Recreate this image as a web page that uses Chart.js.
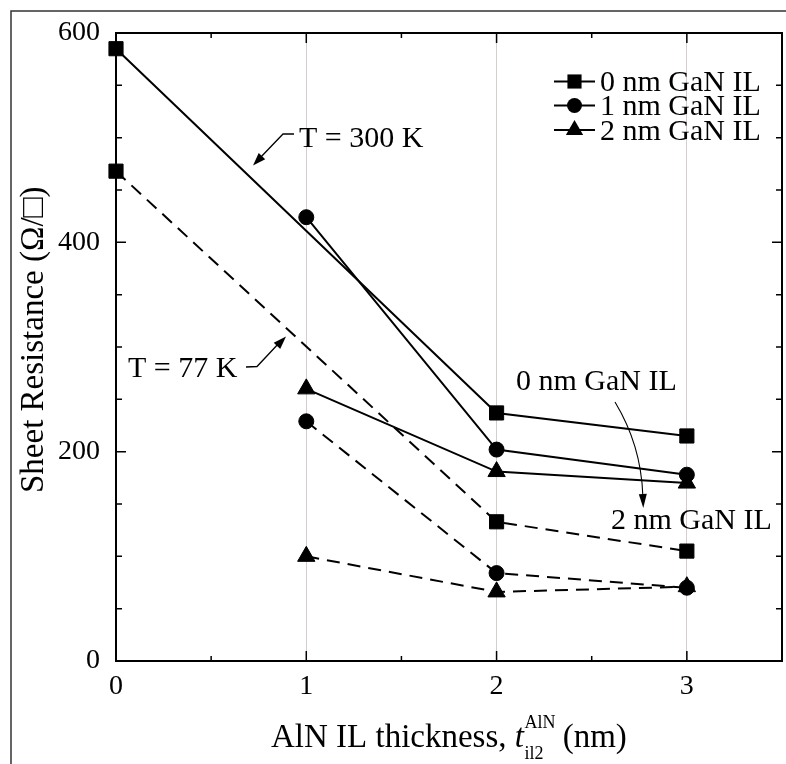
<!DOCTYPE html>
<html><head><meta charset="utf-8">
<script src="https://cdn.jsdelivr.net/npm/chart.js@4.4.1/dist/chart.umd.min.js"></script>
<style>html,body{margin:0;padding:0;background:#fff;}#wrap{width:786px;height:764px;}</style>
</head><body><div id="wrap"><canvas id="c" width="786" height="764"></canvas></div>
<script>
// ---- data ----
const seriesLabels = ['0 nm GaN IL', '1 nm GaN IL', '2 nm GaN IL'];
// T = 300 K (solid)
const x300_0 = [0, 2, 3];  const y300_0 = [585, 237, 215];
const x300_1 = [1, 2, 3];  const y300_1 = [424, 202, 178];
const x300_2 = [1, 2, 3];  const y300_2 = [260, 181, 170];
// T = 77 K (dashed)
const x77_0 = [0, 2, 3];   const y77_0 = [468, 133, 105];
const x77_1 = [1, 2, 3];   const y77_1 = [229, 84, 70];
const x77_2 = [1, 2, 3];   const y77_2 = [100, 66, 71];
// tick labels
const xTickValues = [0, 1, 2, 3];       const xTickLabels = ['0', '1', '2', '3'];
const yTickValues = [0, 200, 400, 600]; const yTickLabels = ['0', '200', '400', '600'];
const xTitle = ['AlN IL thickness, ', 't', 'il2', 'AlN', ' (nm)'];
const yTitle = 'Sheet Resistance (\u03A9/\u25A1)';
const annotations = ['T = 300 K', 'T = 77 K', '0 nm GaN IL', '2 nm GaN IL'];

const serif = '"Liberation Serif", "Times New Roman", serif';
const mk = (xs, ys) => xs.map((x, i) => ({ x: x, y: ys[i] }));
const markerStyles = ['rect', 'circle', 'triangle'];
const markerRadius = { rect: 10, circle: 7.5, triangle: 10 };

function ds(label, data, idx, dashed) {
  const st = markerStyles[idx];
  return {
    label: label, data: data,
    borderColor: '#000', backgroundColor: '#000', borderWidth: 2,
    borderDash: dashed ? [13, 8] : [],
    pointStyle: st, pointRadius: markerRadius[st], pointHoverRadius: markerRadius[st],
    pointBackgroundColor: '#000', pointBorderColor: '#000', pointBorderWidth: 1,
    tension: 0, fill: false, clip: false
  };
}

function drawMarker(ctx, style, x, y) {
  const r = markerRadius[style];
  ctx.beginPath();
  if (style === 'rect') {
    const s = Math.SQRT1_2 * r;
    ctx.rect(x - s, y - s, 2 * s, 2 * s);
  } else if (style === 'circle') {
    ctx.arc(x, y, r, 0, Math.PI * 2);
  } else {
    ctx.moveTo(x, y - r);
    ctx.lineTo(x + r * Math.cos(Math.PI / 6), y + r / 2);
    ctx.lineTo(x - r * Math.cos(Math.PI / 6), y + r / 2);
    ctx.closePath();
  }
  ctx.fillStyle = '#000'; ctx.fill();
}

function arrowHead(ctx, fx, fy, tx, ty, len, hw) {
  const a = Math.atan2(ty - fy, tx - fx);
  ctx.beginPath();
  ctx.moveTo(tx, ty);
  ctx.lineTo(tx - len * Math.cos(a) + hw * Math.sin(a), ty - len * Math.sin(a) - hw * Math.cos(a));
  ctx.lineTo(tx - len * Math.cos(a) - hw * Math.sin(a), ty - len * Math.sin(a) + hw * Math.cos(a));
  ctx.closePath();
  ctx.fillStyle = '#000'; ctx.fill();
}

const framePlugin = {
  id: 'frame',
  beforeDatasetsDraw(chart) {
    const ctx = chart.ctx, a = chart.chartArea;
    const xs = chart.scales.x, ys = chart.scales.y;
    ctx.save();
    // outer figure frame
    ctx.strokeStyle = '#333'; ctx.lineWidth = 1.5;
    ctx.beginPath(); ctx.moveTo(11, 764); ctx.lineTo(11, 11); ctx.lineTo(786, 11); ctx.stroke();
    // plot border
    ctx.strokeStyle = '#000'; ctx.lineWidth = 2;
    ctx.strokeRect(a.left, a.top, a.right - a.left, a.bottom - a.top);
    // inward ticks
    ctx.lineWidth = 1.5;
    ctx.beginPath();
    xs.ticks.forEach(t => {
      const p = xs.getPixelForValue(t.value);
      const L = Number.isInteger(t.value) ? 10 : 5;
      ctx.moveTo(p, a.bottom); ctx.lineTo(p, a.bottom - L);
      ctx.moveTo(p, a.top); ctx.lineTo(p, a.top + L);
    });
    ys.ticks.forEach(t => {
      const p = ys.getPixelForValue(t.value);
      const L = (t.value % 200 === 0) ? 10 : 6;
      ctx.moveTo(a.left, p); ctx.lineTo(a.left + L, p);
      ctx.moveTo(a.right, p); ctx.lineTo(a.right - L, p);
    });
    ctx.stroke();
    ctx.restore();
  },
  afterDatasetsDraw(chart) {
    const ctx = chart.ctx;
    ctx.save();
    // legend (300 K series)
    const rows = [81.5, 105.5, 130];
    ctx.font = '30px ' + serif; ctx.fillStyle = '#000';
    ctx.textBaseline = 'alphabetic'; ctx.textAlign = 'left';
    seriesLabels.forEach((lab, i) => {
      const y = rows[i];
      ctx.strokeStyle = '#000'; ctx.lineWidth = 2;
      ctx.beginPath(); ctx.moveTo(554, y); ctx.lineTo(595, y); ctx.stroke();
      drawMarker(ctx, markerStyles[i], 574.5, y);
      ctx.fillStyle = '#000';
      ctx.fillText(lab, 600, y + 9.5);
    });
    // annotations
    ctx.fillText(annotations[0], 299, 147);
    ctx.fillText(annotations[1], 128, 376.5);
    ctx.fillText(annotations[2], 516, 390);
    ctx.fillText(annotations[3], 611, 528.5);
    // arrows
    ctx.strokeStyle = '#000'; ctx.lineWidth = 1.3;
    ctx.beginPath(); ctx.moveTo(294, 134); ctx.lineTo(283, 134); ctx.lineTo(259, 159); ctx.stroke();
    arrowHead(ctx, 283, 134, 253, 165.5, 13, 4.5);
    ctx.beginPath(); ctx.moveTo(246, 367); ctx.lineTo(257, 366.5); ctx.lineTo(280, 342); ctx.stroke();
    arrowHead(ctx, 257, 366.5, 286, 336.5, 13, 4.5);
    ctx.lineWidth = 1.1;
    ctx.beginPath(); ctx.moveTo(615, 402); ctx.quadraticCurveTo(641, 445, 642.8, 495); ctx.stroke();
    arrowHead(ctx, 642, 470, 643.3, 508, 14, 4);
    ctx.restore();
  },
  afterDraw(chart) {
    const ctx = chart.ctx;
    ctx.save();
    ctx.fillStyle = '#000'; ctx.textBaseline = 'alphabetic'; ctx.textAlign = 'left';
    // x title with sub/superscript
    let x = 271; const base = 746.7;
    ctx.font = '33px ' + serif;
    ctx.fillText(xTitle[0], x, base); x += ctx.measureText(xTitle[0]).width;
    ctx.font = 'italic 33px ' + serif;
    ctx.fillText(xTitle[1], x, base); x += ctx.measureText(xTitle[1]).width + 0.5;
    ctx.font = '18px ' + serif;
    ctx.fillText(xTitle[2], x, base + 12.3);
    ctx.fillText(xTitle[3], x, base - 18.5);
    const w = Math.max(ctx.measureText(xTitle[2]).width, ctx.measureText(xTitle[3]).width);
    x += w - 1;
    ctx.font = '33px ' + serif;
    ctx.fillText(xTitle[4], x, base);
    // y title
    ctx.translate(43.3, 493);
    ctx.rotate(-Math.PI / 2);
    ctx.font = '33px ' + serif;
    ctx.fillText(yTitle, 0, 0);
    ctx.restore();
  }
};

new Chart(document.getElementById('c'), {
  type: 'line',
  data: {
    datasets: [
      ds(seriesLabels[0], mk(x300_0, y300_0), 0, false),
      ds(seriesLabels[1], mk(x300_1, y300_1), 1, false),
      ds(seriesLabels[2], mk(x300_2, y300_2), 2, false),
      ds(seriesLabels[0] + ' (77 K)', mk(x77_0, y77_0), 0, true),
      ds(seriesLabels[1] + ' (77 K)', mk(x77_1, y77_1), 1, true),
      ds(seriesLabels[2] + ' (77 K)', mk(x77_2, y77_2), 2, true)
    ]
  },
  options: {
    responsive: false, animation: false, devicePixelRatio: 1, events: [],
    layout: { autoPadding: false, padding: { top: 33, right: 4, left: 0, bottom: 0 } },
    plugins: { legend: { display: false }, tooltip: { enabled: false }, title: { display: false } },
    scales: {
      x: {
        type: 'linear', min: 0, max: 3.5,
        ticks: {
          stepSize: 0.5, autoSkip: false, maxRotation: 0, padding: 9,
          font: { family: serif, size: 28 }, color: '#000',
          callback: v => { const i = xTickValues.indexOf(v); return i >= 0 ? xTickLabels[i] : ''; }
        },
        grid: {
          drawTicks: false, lineWidth: 1,
          color: c => (c.tick && Number.isInteger(c.tick.value) && c.tick.value > 0) ? '#d3cdcd' : 'rgba(0,0,0,0)'
        },
        border: { display: false },
        afterFit: s => { s.height = 103; s.paddingLeft = 0; s.paddingRight = 0; }
      },
      y: {
        type: 'linear', min: 0, max: 600,
        ticks: {
          stepSize: 50, autoSkip: false, padding: 16,
          font: { family: serif, size: 28 }, color: '#000',
          callback: v => { const i = yTickValues.indexOf(v); return i >= 0 ? yTickLabels[i] : ''; }
        },
        grid: { display: false, drawTicks: false },
        border: { display: false },
        afterFit: s => { s.width = 116; s.paddingTop = 0; s.paddingBottom = 0; }
      }
    }
  },
  plugins: [framePlugin]
});
</script></body></html>
